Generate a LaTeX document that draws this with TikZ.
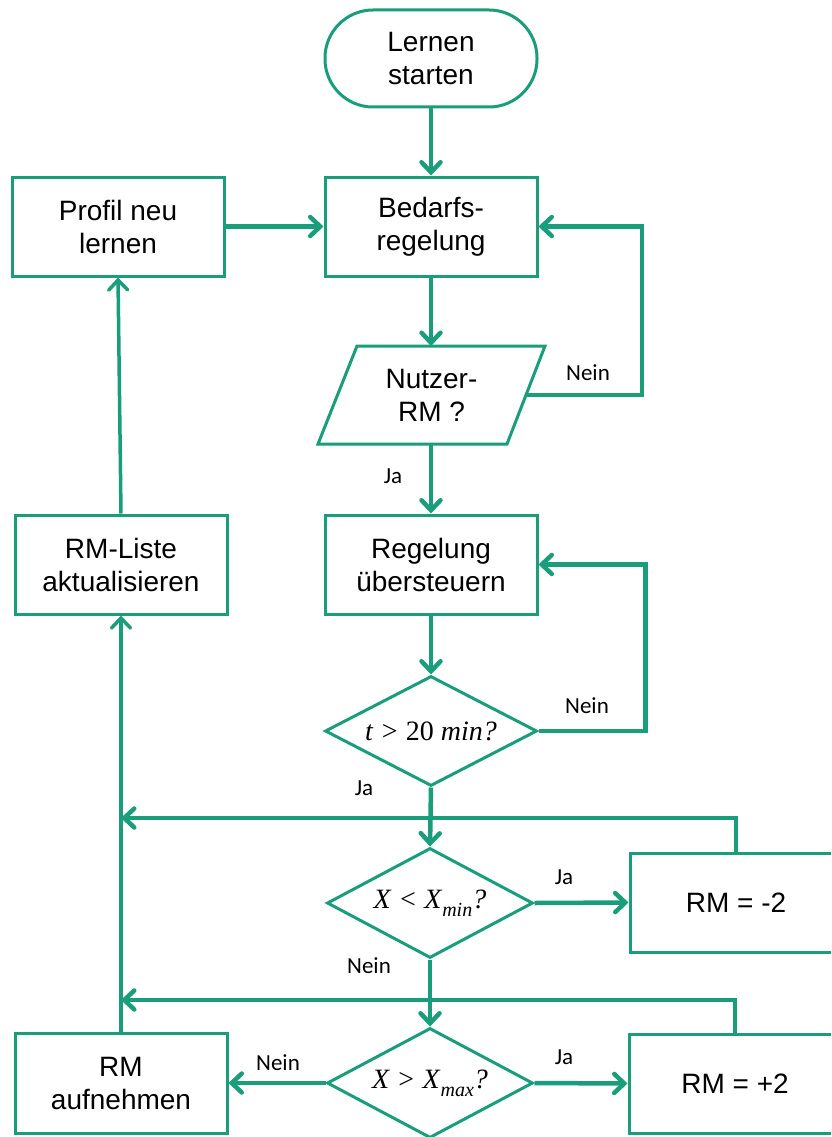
\documentclass[tikz,border=0pt]{standalone}
\usepackage{fontspec}
\setmainfont{Liberation Sans}
\newfontfamily\labfamily{Carlito}
\newfontfamily\formfamily{Liberation Serif}
\usetikzlibrary{arrows.meta,shapes.geometric}
\definecolor{fc}{RGB}{25,157,122}
\newcommand{\boxfont}{\fontsize{28}{33}\selectfont}
\newcommand{\labfont}{\labfamily\fontsize{23}{26}\selectfont}
\newcommand{\formfont}{\formfamily\fontsize{28}{30}\selectfont}
\newcommand{\rel}[1]{\hspace{0.3em}#1\hspace{0.3em}}
\newcommand{\idx}[1]{\raisebox{-0.28em}{\fontsize{20}{20}\selectfont\itshape #1}}
\tikzset{
  box/.style={draw=fc, line width=3pt, minimum width=212pt, minimum height=99pt,
    inner sep=0pt, align=center, font=\boxfont},
  term/.style={box, rounded corners=48pt, minimum height=97pt},
  dia/.style={draw=fc, line width=3pt, diamond, inner sep=0pt,
    minimum width=#1, minimum height=110pt},
  conn/.style={draw=fc, line width=4.5pt,
    -{Straight Barb[length=10pt,width=19pt,line cap=round]}},
  lbl/.style={font=\labfont, inner sep=0pt},
  mtxt/.style={font=\formfont, inner sep=0pt},
}
\begin{document}
\begin{tikzpicture}[x=1pt,y=-1pt]
\clip (0,0) rectangle (831,1137);

% main column
\node[term] (start) at (431,58.5) {Lernen\\starten};
\node[box] (bedarf) at (431,226.5) {Bedarfs-\\regelung};
\node[box] (profil) at (118,226.5) {Profil neu\\lernen};

% input parallelogram
\draw[draw=fc, line width=3pt, line join=miter] (357,346) -- (545,346) -- (507,444) -- (318,444) -- cycle;
\node[font=\boxfont, align=center, inner sep=0pt] (nutzer) at (431.5,395) {Nutzer-\\RM ?};
\coordinate (nzn) at (431,346);
\coordinate (nzs) at (431,444);
\coordinate (nze) at (526,395);

\node[box] (regel) at (431,564.5) {Regelung\\übersteuern};
\node[box] (liste) at (121,564.5) {RM-Liste\\aktualisieren};

% decisions
\node[dia=212pt] (d1) at (431,731) {};
\node[mtxt] (d1t) at (431,731) {\textit{t}\rel{>}20\hspace{0.25em}\textit{min?}};
\node[dia=206pt] (d2) at (430,903) {};
\node[mtxt] (d2t) at (430,903) {\textit{X}\rel{<}\textit{X}\idx{min}\textit{?}};
\node[dia=206pt] (d3) at (430,1083) {};
\node[mtxt] (d3t) at (430,1083) {\textit{X}\rel{>}\textit{X}\idx{max}\textit{?}};

\node[box] (minus) at (736,902.5) {RM = -2};
\node[box] (plus) at (735,1083.5) {RM = +2};
\node[box, minimum height=100pt] (aufn) at (121,1083) {RM\\aufnehmen};

% junctions on the left return line
\coordinate (j1) at (121,818);
\coordinate (j2) at (121,1000);

% connectors
\draw[conn] (start) -- (bedarf);
\draw[conn] (profil) -- (bedarf);
\draw[conn] (bedarf) -- (nzn);
\draw[conn] (nze) -- ++(116,0) |- (bedarf.east);
\draw[conn] (nzs) -- (regel);
\draw[conn] (regel) -- (d1.north);
\draw[conn] (d1.east) -- ++(107,0) |- (regel.east);
\draw[conn] (d1.south) -- (d2.north);
\draw[conn] (d2.east) -- (minus.west);
\draw[conn] (minus.north) |- (j1);
\draw[conn] (d2.south) -- (d3.north);
\draw[conn] (d3.east) -- (plus.west);
\draw[conn] (plus.north) |- (j2);
\draw[conn] (d3.west) -- (aufn.east);
\draw[conn, line width=3.5pt] (aufn.north) -- (liste.south);
\draw[conn, line width=3.5pt] (liste.north) -- (profil.south);

% branch labels
\node[lbl] (l1) at (588,373) {Nein};
\node[lbl] (l2) at (393,476) {Ja};
\node[lbl] (l3) at (587,706) {Nein};
\node[lbl] (l4) at (364,788) {Ja};
\node[lbl] (l5) at (564,877) {Ja};
\node[lbl] (l6) at (369,966) {Nein};
\node[lbl] (l7) at (564,1057) {Ja};
\node[lbl] (l8) at (278,1063) {Nein};
\end{tikzpicture}
\end{document}
